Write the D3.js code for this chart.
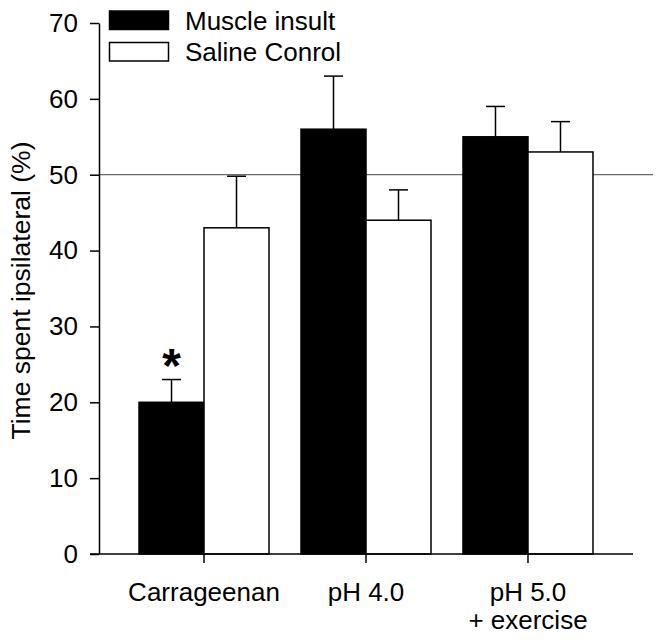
<!DOCTYPE html>
<html>
<head>
<meta charset="utf-8">
<script src="https://cdn.jsdelivr.net/npm/d3@7"></script>
<style>
  html, body { margin: 0; padding: 0; background: #fff; }
  svg { display: block; }
  text { font-family: "Liberation Sans", Arial, Helvetica, sans-serif; }
</style>
</head>
<body>
<svg id="chart" width="664" height="640"></svg>
<script>
// ---- data ----
const categories = ["Carrageenan", "pH 4.0", "pH 5.0\n+ exercise"];
const seriesNames = ["Muscle insult", "Saline Conrol"];
const muscleInsult = [20, 56, 55];
const muscleInsultSEM = [3, 7, 4];
const salineControl = [43, 44, 53];
const salineControlSEM = [6.8, 4, 4];
const yTicks = [0, 10, 20, 30, 40, 50, 60, 70];
const referenceValue = 50;
const significant = [true, false, false];

(function draw() {
  const svg = d3.select("#chart");
  const mLeft = 99, mRight = 633, mTop = 23, mBottom = 554;
  const fontSize = 26;

  const y = d3.scaleLinear().domain([0, 70]).range([mBottom, mTop]);
  const x = d3.scaleBand().domain(categories).range([mLeft, mRight])
    .paddingInner(0.1975).paddingOuter(0.247);
  const sub = d3.scaleBand().domain(seriesNames).range([0, x.bandwidth()]).padding(0);

  const rows = categories.map((c, i) => ({
    cat: c,
    vals: [
      { s: seriesNames[0], v: muscleInsult[i], e: muscleInsultSEM[i], fill: "#000" },
      { s: seriesNames[1], v: salineControl[i], e: salineControlSEM[i], fill: "#fff" }
    ],
    sig: significant[i]
  }));

  // reference line at 50
  svg.append("line")
    .attr("x1", mLeft).attr("x2", 653)
    .attr("y1", y(referenceValue)).attr("y2", y(referenceValue))
    .attr("stroke", "#444").attr("stroke-width", 1);

  const g = svg.append("g");
  const groups = g.selectAll("g.grp").data(rows).join("g")
    .attr("class", "grp")
    .attr("transform", d => `translate(${x(d.cat)},0)`);

  // error bars
  groups.selectAll("g.err").data(d => d.vals).join("g").attr("class", "err")
    .each(function(d) {
      const cx = sub(d.s) + sub.bandwidth() / 2;
      const s = d3.select(this);
      s.append("line").attr("x1", cx).attr("x2", cx)
        .attr("y1", y(d.v)).attr("y2", y(d.v + d.e))
        .attr("stroke", "#000").attr("stroke-width", 1.5);
      s.append("line").attr("x1", cx - 9.5).attr("x2", cx + 9.5)
        .attr("y1", y(d.v + d.e)).attr("y2", y(d.v + d.e))
        .attr("stroke", "#000").attr("stroke-width", 1.5);
    });

  groups.selectAll("rect").data(d => d.vals).join("rect")
    .attr("x", d => sub(d.s))
    .attr("width", sub.bandwidth())
    .attr("y", d => y(d.v))
    .attr("height", d => y(0) - y(d.v))
    .attr("fill", d => d.fill)
    .attr("stroke", "#000").attr("stroke-width", 1.5);

  // significance asterisk
  groups.filter(d => d.sig).append("text")
    .attr("x", d => sub(seriesNames[0]) + sub.bandwidth() / 2)
    .attr("y", d => y(d.vals[0].v + d.vals[0].e) + 2)
    .attr("text-anchor", "middle")
    .attr("font-size", 48).attr("font-weight", "bold")
    .text("*");

  // y axis
  const yAxis = d3.axisLeft(y).tickValues(yTicks).tickSize(9).tickSizeOuter(0).tickPadding(12);
  const ya = svg.append("g").attr("transform", `translate(${mLeft},0)`).call(yAxis);
  ya.select(".domain").attr("stroke-width", 1.5);
  ya.selectAll(".tick line").attr("stroke-width", 1.5);
  ya.selectAll(".tick text").attr("font-size", fontSize).attr("fill", "#000")
    .attr("font-family", "Liberation Sans, Arial, sans-serif");

  // x axis
  const xAxis = d3.axisBottom(x).tickSize(9).tickSizeOuter(0).tickPadding(0).tickFormat("");
  const xa = svg.append("g").attr("transform", `translate(0,${mBottom})`).call(xAxis);
  xa.select(".domain").remove();
  xa.selectAll(".tick line").attr("stroke-width", 1.5);
  xa.append("line").attr("x1", mLeft - 9).attr("x2", mRight).attr("y1", 0).attr("y2", 0)
    .attr("stroke", "#000").attr("stroke-width", 1.5);
  xa.selectAll(".tick").each(function(d) {
    const t = d3.select(this).append("text")
      .attr("text-anchor", "middle").attr("font-size", fontSize).attr("fill", "#000")
      .attr("y", 47);
    d.split("\n").forEach((line, i) => {
      t.append("tspan").attr("x", 0).attr("dy", i === 0 ? 0 : 28).text(line);
    });
  });

  // y axis title
  svg.append("text")
    .attr("transform", `translate(30,${(142 + 439) / 2}) rotate(-90)`)
    .attr("text-anchor", "middle")
    .attr("font-size", 26.5).attr("fill", "#000")
    .text("Time spent ipsilateral (%)");

  // legend
  const legend = svg.append("g");
  const legendFills = ["#000", "#fff"];
  seriesNames.forEach((name, i) => {
    const ly = 11 + i * 31.5;
    legend.append("rect").attr("x", 109.5).attr("y", ly).attr("width", 59).attr("height", 18.5)
      .attr("fill", legendFills[i]).attr("stroke", "#000").attr("stroke-width", 1.5);
    legend.append("text").attr("x", 185).attr("y", ly + 18.5)
      .attr("font-size", fontSize).attr("fill", "#000").text(name);
  });
})();
</script>
</body>
</html>
